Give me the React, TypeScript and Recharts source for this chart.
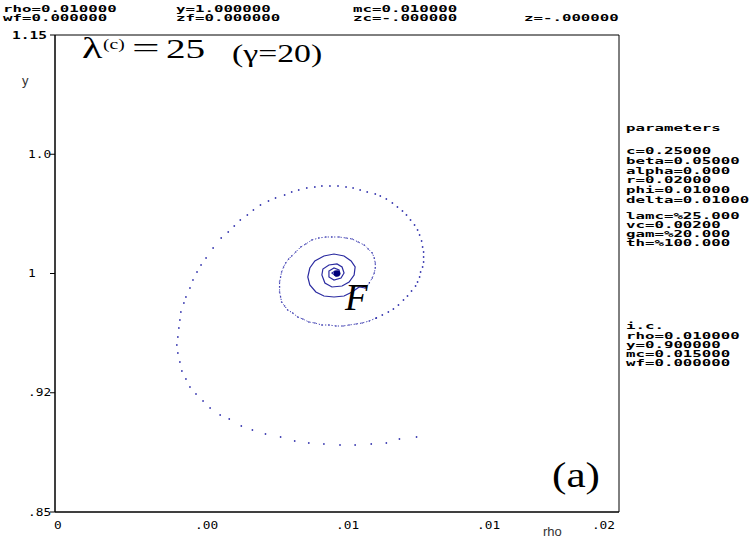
import { ReferenceArea, Scatter, ScatterChart, XAxis, YAxis } from "recharts";

// axis ticks, with the labels printed by the original plot
const xTicks = [0, 0.005, 0.01, 0.015, 0.02];
const xTickLabels = ["0", ".00", ".01", ".01", ".02"];
const yTicks = [0.85, 0.925, 1.0, 1.075, 1.15];
const yTickLabels = [".85", ".92", "1", "1.0", "1.15"];

// outer loop of the trajectory (sparse dots)
const outerRho = [
  0.012821, 0.012214, 0.01175, 0.011214, 0.010643, 0.010107, 0.009536, 0.009, 0.0085, 0.008,
  0.007464, 0.007, 0.006607, 0.006179, 0.005857, 0.0055, 0.00525, 0.005, 0.004786, 0.004643,
  0.0045, 0.004429, 0.004357, 0.004321, 0.004357, 0.004393, 0.004429, 0.004464, 0.004571, 0.004643,
  0.004786, 0.004893, 0.005036, 0.005179, 0.005357, 0.005607, 0.005893, 0.006143, 0.006357, 0.006571,
  0.006821, 0.007036, 0.007286, 0.007571, 0.007821, 0.008143, 0.008393, 0.008643, 0.008929, 0.009214,
  0.009464, 0.00975, 0.010036, 0.010321, 0.010571, 0.010821, 0.011071, 0.011357, 0.011536, 0.01175,
  0.011964, 0.012143, 0.012321, 0.012464, 0.012607, 0.01275, 0.012857, 0.012929, 0.013, 0.013036,
  0.013071, 0.013071, 0.013071, 0.013036, 0.012964, 0.012929, 0.012857, 0.012786, 0.012643, 0.0125,
  0.012357, 0.012179, 0.012, 0.011821, 0.011607, 0.011393,
];
const outerY = [
  0.89717, 0.89591, 0.8934, 0.89277, 0.89214, 0.89214, 0.89277, 0.8934, 0.89465, 0.89717,
  0.89906, 0.90157, 0.90409, 0.90849, 0.91101, 0.91541, 0.91981, 0.92421, 0.92862, 0.93365,
  0.93868, 0.94434, 0.95, 0.95503, 0.96006, 0.96572, 0.97076, 0.97579, 0.98145, 0.98522,
  0.99088, 0.99591, 1.00095, 1.00535, 1.00975, 1.01604, 1.02233, 1.02611, 1.02988, 1.03365,
  1.0368, 1.03994, 1.04309, 1.0456, 1.04749, 1.04937, 1.05126, 1.05252, 1.05378, 1.05441,
  1.05503, 1.05503, 1.05503, 1.05441, 1.05378, 1.05252, 1.05126, 1.05, 1.04874, 1.04686,
  1.04434, 1.04183, 1.03931, 1.0368, 1.03365, 1.03051, 1.02736, 1.02422, 1.02044, 1.01667,
  1.01352, 1.01038, 1.00723, 1.00409, 1.00095, 0.9978, 0.99466, 0.99214, 0.98899, 0.98585,
  0.98333, 0.98019, 0.97767, 0.97579, 0.9739, 0.97201,
];

// second loop (dense dots)
const middleRho = [
  0.011393, 0.011143, 0.010893, 0.010679, 0.010429, 0.010214, 0.009964, 0.009714, 0.009464, 0.009214,
  0.009, 0.008786, 0.008607, 0.008429, 0.00825, 0.008143, 0.008036, 0.008, 0.007964, 0.007964,
  0.007964, 0.008, 0.008036, 0.008107, 0.008179, 0.008286, 0.008393, 0.008536, 0.008714, 0.008893,
  0.009107, 0.009357, 0.009607, 0.009821, 0.010071, 0.010321, 0.010536, 0.01075, 0.010964, 0.011107,
  0.01125, 0.011321, 0.011357, 0.011357, 0.011321, 0.01125, 0.011143, 0.011,
];
const middleY = [
  0.97201, 0.97013, 0.96887, 0.96824, 0.96761, 0.96698, 0.96698, 0.96761, 0.96761, 0.96887,
  0.9695, 0.97139, 0.97265, 0.97516, 0.97705, 0.97956, 0.98208, 0.98522, 0.98836, 0.99151,
  0.99466, 0.9978, 1.00095, 1.00409, 1.0066, 1.00912, 1.01101, 1.01352, 1.01667, 1.01855,
  1.02107, 1.02233, 1.02296, 1.02296, 1.02296, 1.02233, 1.0217, 1.01981, 1.01792, 1.01541,
  1.01289, 1.00975, 1.0066, 1.00346, 1.00031, 0.99717, 0.99402, 0.99088,
];

// innermost turns, close to the focus
const innerRho = [
  0.011, 0.010786, 0.010536, 0.01025, 0.009893, 0.009536, 0.00925, 0.009036, 0.008964, 0.009036,
  0.009214, 0.009536, 0.009893, 0.01025, 0.0105, 0.010643, 0.010607, 0.010429, 0.010179, 0.009821,
  0.009571, 0.009464, 0.0095, 0.009714, 0.01, 0.010179, 0.01025, 0.010143, 0.009893, 0.009714,
  0.009714, 0.009893, 0.010071, 0.010107, 0.009964, 0.009821, 0.009929, 0.01,
];
const innerY = [
  0.99088, 0.99151, 0.98836, 0.98585, 0.98522, 0.98585, 0.98836, 0.99277, 0.9978, 1.00346,
  1.00786, 1.01101, 1.01227, 1.01101, 1.00786, 1.00409, 0.99906, 0.99466, 0.99214, 0.99151,
  0.99402, 0.99906, 1.00283, 1.00535, 1.00598, 1.00409, 1.00031, 0.99717, 0.99591, 0.9978,
  1.00157, 1.00346, 1.0022, 0.99969, 0.99843, 1.00031, 1.00157, 1.0,
];

const focusRho = [0.01];
const focusY = [1.0];

// text printed around the plot
const headerRow1 = ["rho=0.010000", "y=1.000000", "mc=0.010000"];
const headerRow2 = ["wf=0.000000", "zf=0.000000", "zc=-.000000", "z=-.000000"];
const parameterLines = [
  "c=0.25000",
  "beta=0.05000",
  "alpha=0.000",
  "r=0.02000",
  "phi=0.01000",
  "delta=0.01000",
  "lamc=%25.000",
  "vc=0.00200",
  "gam=%20.000",
  "th=%100.000",
];
const initialLines = ["rho=0.010000", "y=0.900000", "mc=0.015000", "wf=0.000000"];

const toPoints = (rho: number[], y: number[]) => rho.map((r, i) => ({ rho: r, y: y[i] }));

const MONO = "'DejaVu Sans Mono', monospace";
const SERIF = "'Liberation Serif', 'Times New Roman', serif";
const SANS = "'Liberation Sans', Arial, sans-serif";

function Stretch(props: any) {
  const { x, y, sx = 1, size, family = MONO, weight = "normal", italic, anchor = "start", fill = "#000", children } = props;
  return (
    <text
      transform={`translate(${x} ${y}) scale(${sx} 1)`}
      fontSize={size}
      fontFamily={family}
      fontWeight={weight}
      fontStyle={italic ? "italic" : "normal"}
      textAnchor={anchor}
      fill={fill}
    >
      {children}
    </text>
  );
}

// the bitmap font of the original: small and wide
const Pixel = (props: any) => <Stretch sx={1.97} size={8} weight="bold" {...props} />;

const XTick = (props: any) => {
  const { x, index } = props;
  const last = index === xTicks.length - 1;
  return (
    <Stretch x={last ? 615 : x - 1} y={529} sx={1.28} size={10} anchor={last ? "end" : "start"}>
      {xTickLabels[index]}
    </Stretch>
  );
};

const YTick = (props: any) => {
  const { y, index } = props;
  const top = index === yTicks.length - 1;
  return (
    <Stretch x={top ? 12 : 28} y={y + 3.5} sx={top ? 1.45 : 1.28} size={10} weight={top ? "bold" : "normal"}>
      {yTickLabels[index]}
    </Stretch>
  );
};

const dot = (color: string, r: number) => (p: any) => <circle cx={p.cx} cy={p.cy} r={r} fill={color} />;
const noDot = () => <g />;

export default function App() {
  const headerX = [3, 176, 353, 524];
  const paramY = [154, 164, 174, 183, 193, 203, 219, 228, 237, 246];
  const icY = [339, 348, 357, 366];
  return (
    <div style={{ position: "absolute", left: 0, top: 0, width: 753, height: 539, background: "#fff" }}>
      <ScatterChart width={753} height={539} margin={{ top: 35, right: 134, bottom: 0, left: 0 }}>
        <XAxis
          xAxisId="inner"
          dataKey="rho"
          type="number"
          domain={[0, 0.02]}
          ticks={xTicks}
          mirror
          height={0}
          tick={false}
          tickSize={3}
          axisLine={false}
          tickLine={{ stroke: "#000" }}
        />
        <XAxis
          dataKey="rho"
          type="number"
          domain={[0, 0.02]}
          ticks={xTicks}
          height={27}
          tick={<XTick />}
          tickLine={false}
          axisLine={{ stroke: "#000" }}
          allowDataOverflow
        />
        <XAxis
          xAxisId="top"
          orientation="top"
          dataKey="rho"
          type="number"
          domain={[0, 0.02]}
          ticks={xTicks}
          mirror
          height={0}
          tick={false}
          tickSize={3}
          axisLine={false}
          tickLine={{ stroke: "#000" }}
        />
        <YAxis
          dataKey="y"
          type="number"
          domain={[0.85, 1.15]}
          ticks={yTicks}
          width={55}
          tick={<YTick />}
          tickSize={5}
          tickLine={{ stroke: "#000" }}
          axisLine={{ stroke: "#000" }}
          allowDataOverflow
        />
        <ReferenceArea x1={0} x2={0.02} y1={0.85} y2={1.15} fill="none" stroke="#000" strokeWidth={1} />
        <Scatter data={toPoints(outerRho, outerY)} shape={dot("#3a3ab0", 0.9)} isAnimationActive={false} />
        <Scatter
          data={toPoints(middleRho, middleY)}
          shape={dot("#3a3ab0", 0.8)}
          line={{ stroke: "#3a3ab0", strokeWidth: 1, strokeDasharray: "1.2 2" }}
          lineType="joint"
          isAnimationActive={false}
        />
        <Scatter
          data={toPoints(innerRho, innerY)}
          shape={noDot}
          line={{ stroke: "#2a2aa0", strokeWidth: 1.2 }}
          lineType="joint"
          isAnimationActive={false}
        />
        <Scatter data={toPoints(focusRho, focusY)} shape={dot("#00007a", 3.2)} isAnimationActive={false} />
      </ScatterChart>

      <svg width={753} height={539} style={{ position: "absolute", left: 0, top: 0, pointerEvents: "none" }}>
        {headerRow1.map((t, i) => (
          <Pixel key={"h1" + i} x={headerX[i]} y={11.5}>
            {t}
          </Pixel>
        ))}
        {headerRow2.map((t, i) => (
          <Pixel key={"h2" + i} x={headerX[i]} y={20.5}>
            {t}
          </Pixel>
        ))}
        <Pixel x={626} y={131}>
          parameters
        </Pixel>
        {parameterLines.map((t, i) => (
          <Pixel key={"p" + i} x={626} y={paramY[i]}>
            {t}
          </Pixel>
        ))}
        <Pixel x={626} y={329}>
          i.c.
        </Pixel>
        {initialLines.map((t, i) => (
          <Pixel key={"ic" + i} x={626} y={icY[i]}>
            {t}
          </Pixel>
        ))}

        <Stretch x={22} y={85} size={13} family={SANS} fill="#333">
          y
        </Stretch>
        <Stretch x={543} y={536} size={13} family={SANS} fill="#333">
          rho
        </Stretch>

        <Stretch x={82} y={58} sx={1.45} size={29} family={SERIF}>
          λ
        </Stretch>
        <Stretch x={103} y={49} sx={1.3} size={15} family={SERIF}>
          (c)
        </Stretch>
        <Stretch x={132} y={57} sx={1.75} size={28} family={SERIF}>
          =
        </Stretch>
        <Stretch x={166} y={58} sx={1.4} size={28} family={SERIF}>
          25
        </Stretch>
        <Stretch x={232} y={62} sx={1.35} size={25} family={SERIF}>
          (γ=20)
        </Stretch>
        <Stretch x={345} y={310} size={37} family={SERIF} italic>
          F
        </Stretch>
        <Stretch x={552} y={487} sx={1.2} size={36} family={SERIF}>
          (a)
        </Stretch>
      </svg>
    </div>
  );
}
